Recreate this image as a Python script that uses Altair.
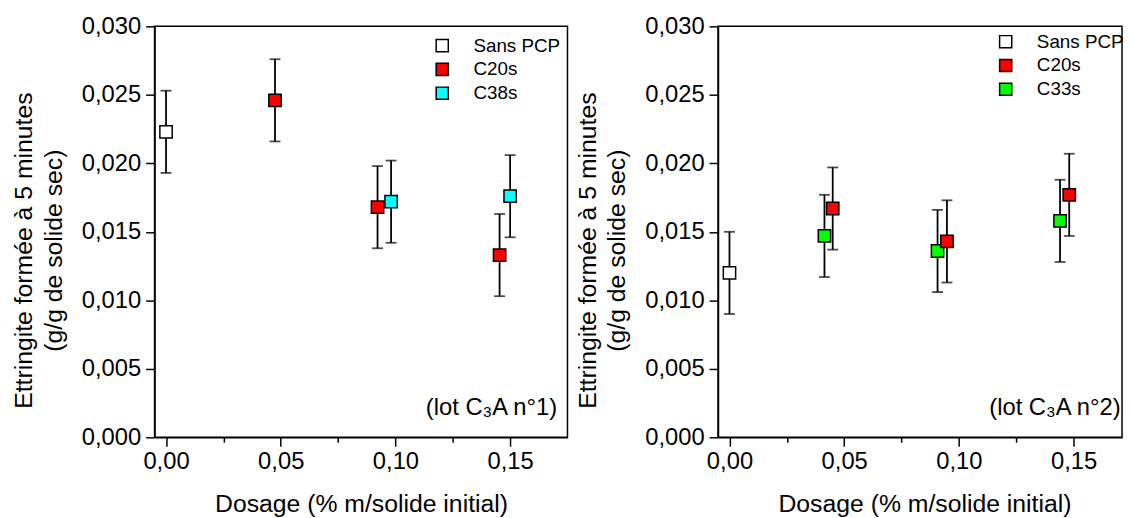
import altair as alt
import pandas as pd

# ---------------- data ----------------
# Panel 1 : lot C3A n°1
p1_series = ["Sans PCP", "C20s", "C20s", "C38s", "C20s", "C38s"]
p1_dosage = [0.0000, 0.0475, 0.0922, 0.0981, 0.1454, 0.1500]
p1_value = [0.0223, 0.0246, 0.0168, 0.0172, 0.0133, 0.0176]
p1_err = [0.0030, 0.0030, 0.0030, 0.0030, 0.0030, 0.0030]
p1_names = ["Sans PCP", "C20s", "C38s"]
p1_colors = ["#ffffff", "#ff0000", "#00ffff"]
p1_note = "(lot C\u2083A n°1)"

# Panel 2 : lot C3A n°2
p2_series = ["Sans PCP", "C33s", "C20s", "C33s", "C20s", "C33s", "C20s"]
p2_dosage = [0.0000, 0.0414, 0.0450, 0.0907, 0.0948, 0.1441, 0.1481]
p2_value = [0.0120, 0.0147, 0.0167, 0.0136, 0.0143, 0.0158, 0.0177]
p2_err = [0.0030, 0.0030, 0.0030, 0.0030, 0.0030, 0.0030, 0.0030]
p2_names = ["Sans PCP", "C20s", "C33s"]
p2_colors = ["#ffffff", "#ff0000", "#00ff00"]
p2_note = "(lot C\u2083A n°2)"

x_ticks = [0.0, 0.025, 0.05, 0.075, 0.10, 0.125, 0.15, 0.175]
y_ticks = [0.0, 0.0025, 0.005, 0.0075, 0.010, 0.0125, 0.015, 0.0175,
           0.020, 0.0225, 0.025, 0.0275, 0.030]

x_title = "Dosage (% m/solide initial)"
y_title = ["Ettringite formée à 5 minutes", "(g/g de solide sec)"]

FONT = "Liberation Sans"
PLOT_H = 415
PX_PER_UNIT = 417 / 0.18


def make_df(series, dosage, value, err):
    df = pd.DataFrame({"series": series, "dosage": dosage, "value": value, "err": err})
    df["lo"] = df["value"] - df["err"]
    df["hi"] = df["value"] + df["err"]
    return df


y_major = "abs(datum.value*200 - round(datum.value*200)) < 0.01"
x_major = "abs(datum.value*20 - round(datum.value*20)) < 0.01"


def panel(df, names, colors, note, width, legend_y):
    xmax = -0.005 + width / PX_PER_UNIT
    xscale = alt.Scale(domain=[-0.005, xmax], nice=False, zero=False)
    yscale = alt.Scale(domain=[0.0, 0.030], nice=False, zero=True)
    xaxis = alt.Axis(
        values=[v for v in x_ticks if v <= xmax + 1e-9],
        labelExpr=f"{x_major} ? replace(format(datum.value, '.2f'), '.', ',') : ''",
        tickSize={"condition": {"test": x_major, "value": 9}, "value": 5},
        labelPadding=4, labelFlush=False, labelOverlap=False,
        labelFont=FONT, labelFontSize=24, labelColor="black",
        titleFont=FONT, titleFontSize=25, titleFontWeight="normal", titleColor="black",
        titleX=208.5, titleY=75, titleBaseline="alphabetic", titleAnchor="middle",
        grid=False,
    )
    yaxis = alt.Axis(
        values=y_ticks,
        labelExpr=f"{y_major} ? replace(format(datum.value, '.3f'), '.', ',') : ''",
        tickSize={"condition": {"test": y_major, "value": 9}, "value": 5},
        labelPadding=5, labelFlush=False, labelOverlap=False,
        labelFont=FONT, labelFontSize=24, labelColor="black",
        titleFont=FONT, titleFontSize=25, titleFontWeight="normal", titleColor="black",
        titleLineHeight=30, titlePadding=15, titleY=226,
        grid=False,
    )

    def X(field):
        return alt.X(field, type="quantitative", scale=xscale, axis=xaxis, title=x_title)

    def Y(field):
        return alt.Y(field, type="quantitative", scale=yscale, axis=yaxis, title=y_title)

    base = alt.Chart(df)
    rule = base.mark_rule(color="black", strokeWidth=1.8).encode(
        x=X("dosage"), y=Y("lo"), y2="hi"
    )
    cap_lo = base.mark_tick(orient="horizontal", size=11, thickness=1.8, color="black").encode(
        x=X("dosage"), y=Y("lo")
    )
    cap_hi = base.mark_tick(orient="horizontal", size=11, thickness=1.8, color="black").encode(
        x=X("dosage"), y=Y("hi")
    )
    points = base.mark_square(size=155, filled=True, stroke="black", strokeWidth=1.5, opacity=1).encode(
        x=X("dosage"),
        y=Y("value"),
        fill=alt.Fill(
            "series:N",
            scale=alt.Scale(domain=names, range=colors),
            legend=alt.Legend(
                title=None, orient="none", legendX=281, legendY=legend_y,
                symbolType="square", symbolSize=150, symbolStrokeColor="black",
                symbolStrokeWidth=1.5, symbolOpacity=1,
                labelFont=FONT, labelFontSize=19, labelColor="black",
                labelOffset=22, rowPadding=4, padding=0,
            ),
        ),
    )
    label = alt.Chart(pd.DataFrame({"note": [note]})).mark_text(
        align="right", baseline="alphabetic", font=FONT, fontSize=24, color="black"
    ).encode(
        x=alt.datum(0.1705, type="quantitative", scale=xscale),
        y=alt.datum(0.0016, type="quantitative", scale=yscale),
        text="note:N",
    )
    return alt.layer(rule, cap_lo, cap_hi, points, label).properties(width=width, height=PLOT_H)


df1 = make_df(p1_series, p1_dosage, p1_value, p1_err)
df2 = make_df(p2_series, p2_dosage, p2_value, p2_err)

left = panel(df1, p1_names, p1_colors, p1_note, 417, 10)
right = panel(df2, p2_names, p2_colors, p2_note, 408, 6)

chart = (
    alt.hconcat(left, right, spacing=6)
    .resolve_scale(fill="independent", x="independent", y="independent")
    .resolve_legend(fill="independent")
    .properties(padding={"left": 3, "top": 3, "right": 0, "bottom": 0}, background="white")
    .configure_view(stroke="black", strokeWidth=1.5)
    .configure_axis(domainColor="black", domainWidth=1.5, tickColor="black", tickWidth=1.5)
)

chart.save("out.html", embed_options={"renderer": "svg", "actions": False})
